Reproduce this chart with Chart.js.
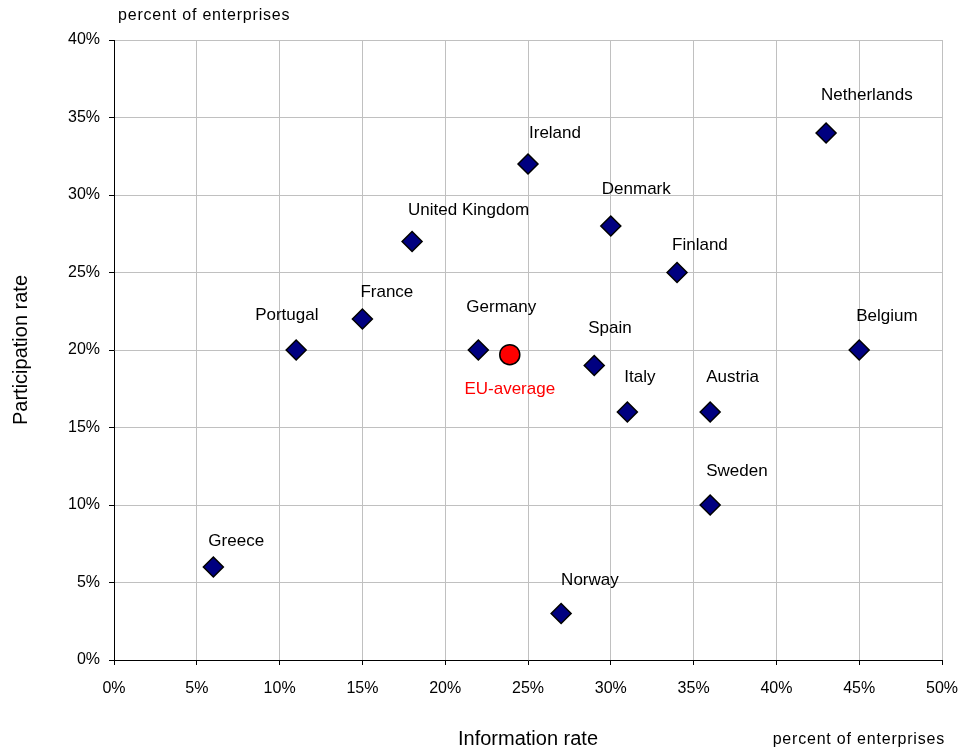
<!DOCTYPE html>
<html>
<head>
<meta charset="utf-8">
<title>Information and participation rate</title>
<script src="https://cdn.jsdelivr.net/npm/chart.js@4.4.1/dist/chart.umd.min.js"></script>
<style>
  html, body { margin: 0; padding: 0; background: #fff; }
  #wrap { width: 964px; height: 751px; }
</style>
</head>
<body>
<div id="wrap"><canvas id="chart"></canvas></div>
<script>
const countries = ['Netherlands', 'Ireland', 'Denmark', 'United Kingdom', 'Finland', 'France', 'Portugal',
    'Germany', 'Spain', 'Belgium', 'Italy', 'Austria', 'Sweden', 'Greece', 'Norway'];
const informationRate = [43, 25, 30, 18, 34, 15, 11, 22, 29, 45, 31, 36, 36, 6, 27];
const participationRate = [34, 32, 28, 27, 25, 22, 20, 20, 19, 20, 16, 16, 10, 6, 3];

const euLabel = 'EU-average';
const euInformation = 23.9;
const euParticipation = 19.7;

const xTicks = [0, 5, 10, 15, 20, 25, 30, 35, 40, 45, 50];
const yTicks = [0, 5, 10, 15, 20, 25, 30, 35, 40];

const FONT = "'Liberation Sans', Arial, sans-serif";

// where each country name sits relative to its marker (left edge / vertical middle)
const labelOffsets = {
    'Netherlands': [-5, -38], 'Ireland': [1, -31], 'Denmark': [-9, -37], 'United Kingdom': [-4, -31],
    'Finland': [-5, -27], 'France': [-2, -27], 'Portugal': [-41, -35], 'Germany': [-12, -43],
    'Spain': [-6, -37], 'Belgium': [-3, -34], 'Italy': [-3, -35], 'Austria': [-4, -35],
    'Sweden': [-4, -34], 'Greece': [-5, -26], 'Norway': [0, -33]
};

const pointLabels = {
    id: 'pointLabels',
    afterDatasetsDraw(chart) {
        const ctx = chart.ctx;
        ctx.save();
        ctx.font = '17px ' + FONT;
        ctx.textBaseline = 'middle';
        ctx.fillStyle = '#000';
        ctx.textAlign = 'left';
        chart.getDatasetMeta(0).data.forEach((pt, i) => {
            const off = labelOffsets[countries[i]] || [0, -34];
            ctx.fillText(countries[i], pt.x + off[0], pt.y + off[1]);
        });
        const eu = chart.getDatasetMeta(1).data[0];
        ctx.fillStyle = '#ff0000';
        ctx.textAlign = 'center';
        ctx.fillText(euLabel, eu.x, eu.y + 35);

        // unit notes
        ctx.fillStyle = '#000';
        ctx.font = '16px ' + FONT;
        ctx.letterSpacing = '0.8px';
        ctx.textAlign = 'left';
        ctx.fillText('percent of enterprises', 118, 16);
        ctx.textAlign = 'right';
        ctx.fillText('percent of enterprises', 945, 740);
        ctx.restore();
    }
};

const ctx = document.getElementById('chart').getContext('2d');
new Chart(ctx, {
    type: 'scatter',
    data: {
        datasets: [{
            label: 'Countries',
            data: countries.map((c, i) => ({ x: informationRate[i], y: participationRate[i] })),
            pointStyle: 'rectRot',
            radius: 10,
            backgroundColor: '#000080',
            borderColor: '#000',
            borderWidth: 1.5
        }, {
            label: euLabel,
            data: [{ x: euInformation, y: euParticipation }],
            pointStyle: 'circle',
            radius: 10,
            backgroundColor: '#ff0000',
            borderColor: '#000',
            borderWidth: 1.5
        }]
    },
    options: {
        responsive: true,
        maintainAspectRatio: false,
        animation: false,
        layout: { padding: { top: 40, right: 22, left: 0, bottom: 0 } },
        plugins: {
            legend: { display: false },
            tooltip: { enabled: false }
        },
        scales: {
            x: {
                type: 'linear',
                min: 0,
                max: 50,
                afterFit: s => { s.height = 91; s.paddingLeft = 0; s.paddingRight = 0; },
                afterBuildTicks: s => { s.ticks = xTicks.map(v => ({ value: v })); },
                ticks: {
                    padding: 14,
                    color: '#000',
                    font: { family: FONT, size: 16 },
                    callback: v => v + '%'
                },
                grid: { color: '#c0c0c0', tickColor: '#000', tickLength: 5 },
                border: { color: '#000', width: 1 },
                title: {
                    display: true,
                    text: 'Information rate',
                    color: '#000',
                    font: { family: FONT, size: 20 },
                    padding: { top: 0, bottom: 0 }
                }
            },
            y: {
                type: 'linear',
                min: 0,
                max: 40,
                afterFit: s => { s.width = 114; s.paddingTop = 0; s.paddingBottom = 0; },
                afterBuildTicks: s => { s.ticks = yTicks.map(v => ({ value: v })); },
                ticks: {
                    padding: 9,
                    color: '#000',
                    font: { family: FONT, size: 16 },
                    callback: v => v + '%'
                },
                grid: { color: '#c0c0c0', tickColor: '#000', tickLength: 5 },
                border: { color: '#000', width: 1 },
                title: {
                    display: true,
                    text: 'Participation rate',
                    color: '#000',
                    font: { family: FONT, size: 20 },
                    padding: { top: 9, bottom: 0 }
                }
            }
        }
    },
    plugins: [pointLabels]
});
</script>
</body>
</html>
